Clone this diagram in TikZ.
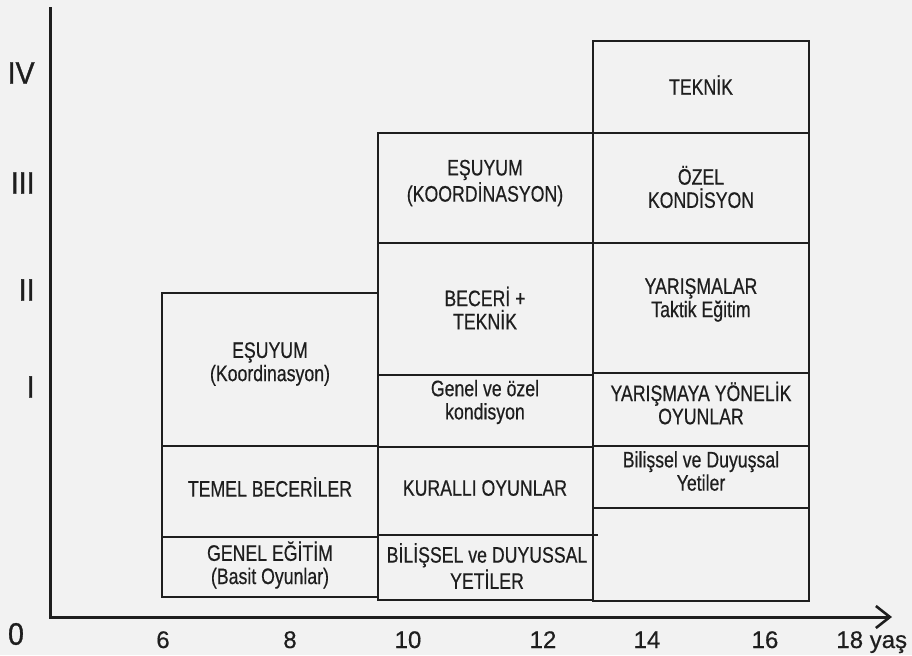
\documentclass[tikz,border=0pt]{standalone}
\usepackage{fontspec}
\setmainfont{Liberation Sans}
\newfontfamily\condfont[FakeStretch=0.79,FakeBold=0.5]{Liberation Sans}
\newfontfamily\romfont[FakeStretch=0.92,FakeBold=1]{Liberation Sans}
\newfontfamily\axfont[FakeBold=0.5]{Liberation Sans}
\usetikzlibrary{arrows.meta}
\definecolor{ink}{HTML}{1E1E1E}
\definecolor{paper}{HTML}{F2F2F2}
\begin{document}
\begin{tikzpicture}[x=0.5pt,y=-0.5pt,
  box/.style={draw=ink,line width=1.45pt},
  lbl/.style={font=\condfont\fontsize{11.2}{11.6}\selectfont,align=center,text=ink,inner sep=0pt},
  axisline/.style={draw=ink,line width=1.5pt},
  ticklbl/.style={font=\axfont\fontsize{12}{13}\selectfont,text=ink,inner sep=0pt,anchor=base},
  romlbl/.style={font=\romfont\fontsize{15.5}{17}\selectfont,text=ink,inner sep=0pt,anchor=east}
]
% background / bounding box
\fill[paper] (0,0) rectangle (912,655);

% axes
\coordinate (ytop) at (50,7);
\coordinate (origin) at (50,617);
\coordinate (xend) at (892,617);
\draw[axisline,-{Straight Barb[length=7pt,width=11pt,line width=1.3pt]}] (ytop) -- (origin) -- (xend);

% column 1
\draw[box] (162,293) rectangle (378,597);
\draw[box] (162,446) -- (378,446);
\draw[box] (162,537) -- (378,537);
% column 2
\draw[box] (378,133) rectangle (593,600);
\draw[box] (378,243) -- (593,243);
\draw[box] (378,375) -- (593,375);
\draw[box] (378,447) -- (593,447);
\draw[box] (378,535) -- (598,535);
% column 3
\draw[box] (593,41) rectangle (809,601);
\draw[box] (593,133) -- (809,133);
\draw[box] (593,243) -- (809,243);
\draw[box] (593,373) -- (809,373);
\draw[box] (593,446) -- (809,446);
\draw[box] (593,508) -- (809,508);

% texts column 1
\node[lbl] (c1a) at (270,364) {EŞUYUM\\(Koordinasyon)};
\node[lbl] (c1b) at (270,487) {TEMEL BECERİLER};
\node[lbl] (c1c) at (270,565) {GENEL EĞİTİM\\(Basit Oyunlar)};
% texts column 2
\node[lbl] (c2a) at (485,183) {EŞUYUM\\(KOORDİNASYON)};
\node[lbl] (c2b) at (485,308) {BECERİ +\\TEKNİK};
\node[lbl] (c2c) at (485,402) {Genel ve özel\\kondisyon};
\node[lbl] (c2d) at (485,488) {KURALLI OYUNLAR};
\node[lbl] (c2e) at (487,566) {BİLİŞSEL ve DUYUSSAL\\YETİLER};
% texts column 3
\node[lbl] (c3a) at (701,85) {TEKNİK};
\node[lbl] (c3b) at (701,187) {ÖZEL\\KONDİSYON};
\node[lbl] (c3c) at (701,300) {YARIŞMALAR\\Taktik Eğitim};
\node[lbl] (c3d) at (701,403) {YARIŞMAYA YÖNELİK\\OYUNLAR};
\node[lbl] (c3e) at (701,471) {Bilişsel ve Duyuşsal\\Yetiler};

% y axis labels
\node[romlbl] (r4) at (35,73) {IV};
\node[romlbl] (r3) at (35,183) {III};
\node[romlbl] (r2) at (35,290) {II};
\node[romlbl] (r1) at (35,387) {I};
\node[romlbl,anchor=center] (r0) at (16,634) {0};

% x axis labels
\node[ticklbl] (x6) at (163,648) {6};
\node[ticklbl] (x8) at (290,648) {8};
\node[ticklbl] (x10) at (408,648) {10};
\node[ticklbl] (x12) at (543,648) {12};
\node[ticklbl] (x14) at (647,648) {14};
\node[ticklbl] (x16) at (765,648) {16};
\node[ticklbl,anchor=base west] (x18) at (836,648) {18 yaş};
\end{tikzpicture}
\end{document}
